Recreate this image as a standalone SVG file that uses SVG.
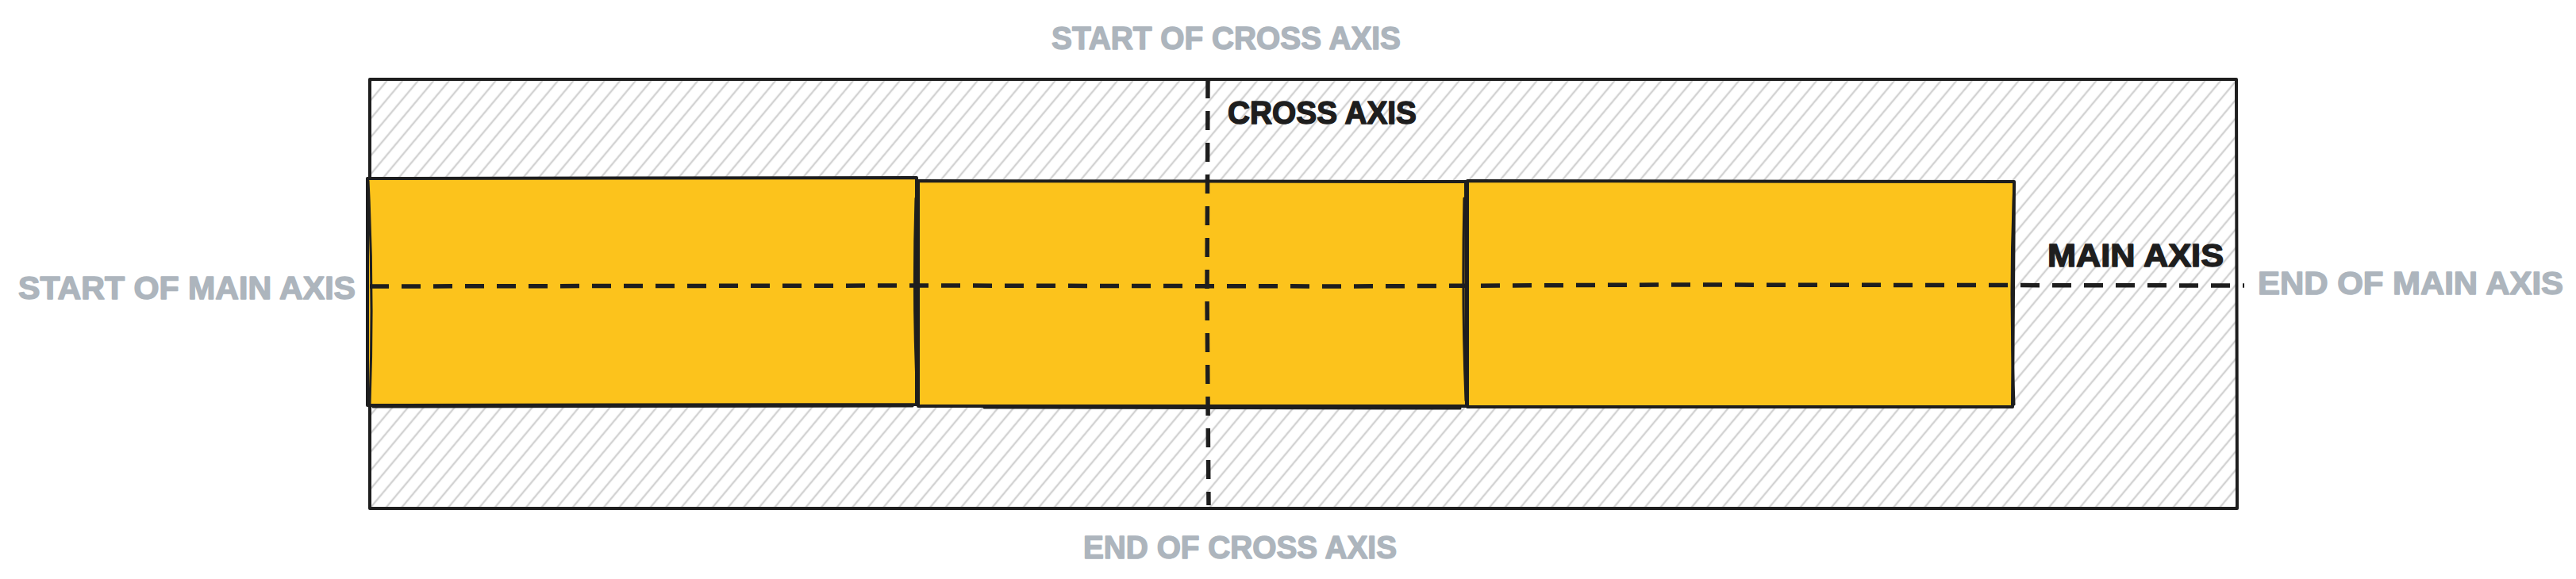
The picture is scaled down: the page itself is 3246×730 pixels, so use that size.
<svg xmlns="http://www.w3.org/2000/svg" width="3246" height="730" viewBox="0 0 3246 730">
  <defs>
    <pattern id="hatch" width="15" height="15" patternUnits="userSpaceOnUse" patternTransform="rotate(40)">
      <line x1="4" y1="0" x2="4" y2="15" stroke="#d2d2d2" stroke-width="2.4"/>
    </pattern>
    <style>
      .edge { fill: none; stroke: #1e1e1e; stroke-width: 4; stroke-linecap: round; stroke-linejoin: round; }
      .sketch { fill: none; stroke: #1e1e1e; stroke-width: 3; stroke-linecap: round; }
      .box { fill: #fcc31c; }
      .axis { fill: none; stroke: #1e1e1e; stroke-width: 5.5; stroke-dasharray: 24 16; }
      .label { font-family: "Liberation Sans", Arial, sans-serif; font-weight: bold; font-size: 40px; stroke-width: 1.5; stroke-linejoin: round; }
      .grey { fill: #adb5bd; stroke: #adb5bd; }
      .dark { fill: #1e1e1e; stroke: #1e1e1e; }
    </style>
  </defs>
  <rect width="3246" height="730" fill="#ffffff"/>

  <g id="container">
    <rect x="466" y="100" width="2352" height="541" fill="url(#hatch)"/>
    <path class="edge" d="M466,100 L2818,100 L2819,641 L466,641 Z"/>
  </g>

  <g id="item1">
    <rect class="box" x="463" y="225" width="692" height="286"/>
    <path class="edge" d="M463,225 L1155,224 L1155,510 L463,511 Z"/>
    <path class="sketch" d="M464,228 Q471,368 466,509"/>
    <path class="sketch" d="M470,513 L1150,512"/>
  </g>

  <g id="item2">
    <rect class="box" x="1157" y="228" width="690" height="284"/>
    <path class="edge" d="M1157,228 L1847,229 L1848,512 L1157,512 Z"/>
    <path class="sketch" d="M1154,250 Q1150,380 1156,505"/>
    <path class="sketch" d="M1240,514 L1840,515"/>
  </g>

  <g id="item3">
    <rect class="box" x="1849" y="228" width="689" height="285"/>
    <path class="edge" d="M1849,228 L2538,229 L2536,513 L1849,513 Z"/>
    <path class="sketch" d="M1845,250 Q1842,380 1847,505"/>
    <path class="sketch" d="M2538,232 Q2532,370 2538,510"/>
  </g>

  <g id="connectors">
    <path class="axis" d="M466,361 L1160,360 L1700,361 L2100,359 L2828,360"/>
    <path class="axis" d="M1522,100 L1521,370 L1523,637"/>
  </g>

  <g id="label-start-cross">
    <text class="label grey" x="1325" y="62" textLength="440" lengthAdjust="spacingAndGlyphs">START OF CROSS AXIS</text>
  </g>
  <g id="label-cross-axis">
    <text class="label dark" x="1547" y="156" textLength="238" lengthAdjust="spacingAndGlyphs">CROSS AXIS</text>
  </g>
  <g id="label-main-axis">
    <text class="label dark" x="2580" y="336" textLength="222" lengthAdjust="spacingAndGlyphs">MAIN AXIS</text>
  </g>
  <g id="label-start-main">
    <text class="label grey" x="23" y="377" textLength="425" lengthAdjust="spacingAndGlyphs">START OF MAIN AXIS</text>
  </g>
  <g id="label-end-main">
    <text class="label grey" x="2845" y="371" textLength="385" lengthAdjust="spacingAndGlyphs">END OF MAIN AXIS</text>
  </g>
  <g id="label-end-cross">
    <text class="label grey" x="1365" y="704" textLength="395" lengthAdjust="spacingAndGlyphs">END OF CROSS AXIS</text>
  </g>
</svg>
